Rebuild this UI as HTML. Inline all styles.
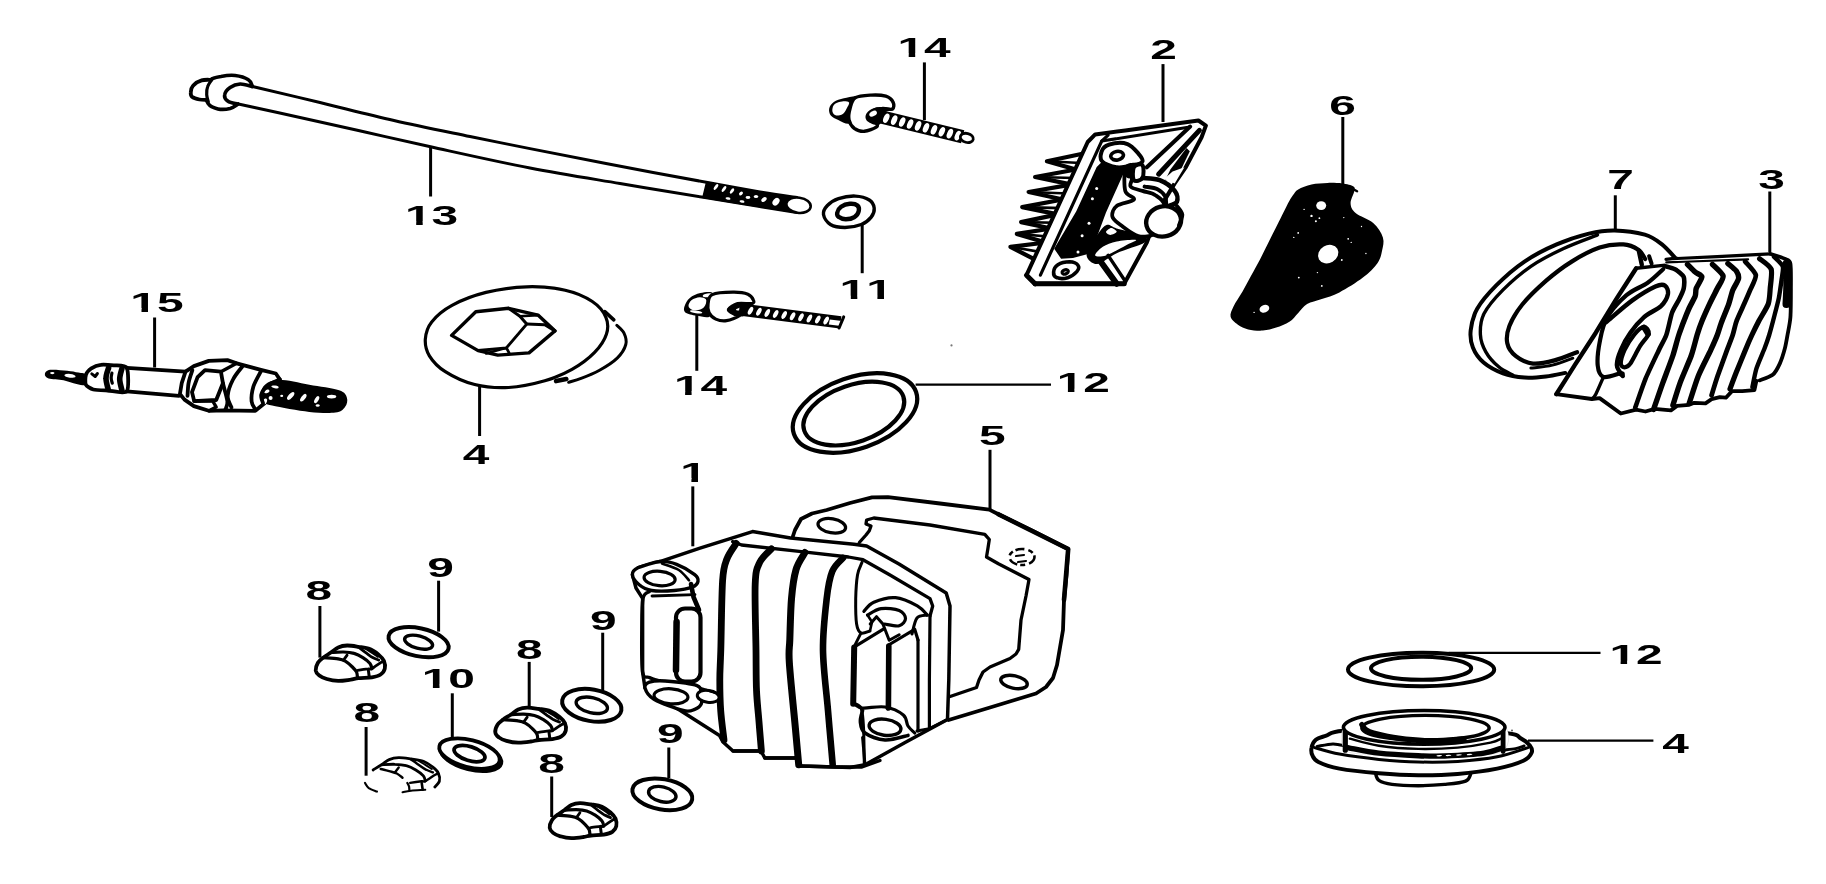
<!DOCTYPE html>
<html><head><meta charset="utf-8"><title>Cylinder head cover - parts diagram</title>
<style>
html,body{margin:0;padding:0;background:#fff;overflow:hidden}
svg{display:block}
.t{font-family:"Liberation Sans",sans-serif;font-weight:bold;font-size:28.5px;fill:#000;font-kerning:none;font-variant-ligatures:none}
</style></head><body>
<svg width="1826" height="884" viewBox="0 0 1826 884">
<defs><filter id="soft" x="0" y="0" width="1826" height="884" filterUnits="userSpaceOnUse"><feGaussianBlur stdDeviation="0.42"/></filter></defs>
<rect width="1826" height="884" fill="#fff"/>
<g filter="url(#soft)">
<g id="parts">
<g id="bolt13">
<path d="M252.5 86.5C263.8 89.2 296.4 96.8 320 102.5C343.6 108.2 369 114.8 394 120.5C419 126.2 447.3 131.8 470 136.5C492.7 141.2 507.3 144.1 530 148.6C552.7 153.1 576.2 157.8 606 163.5C635.8 169.2 683.3 178.1 709 182.8C734.7 187.6 745.3 189.5 760 192C774.7 194.5 790.8 196.7 797 197.6" fill="none" stroke="#000" stroke-width="3" stroke-linecap="round" stroke-linejoin="round"/>
<path d="M237.2 103.8C247.7 106.1 278.7 112.8 300 117.5C321.3 122.2 343.2 127.1 365 132C386.8 136.9 403.1 140.8 430.6 146.8C458.1 152.8 498.4 161.9 530 168C561.6 174.1 590.8 178.6 620 183.5C649.2 188.4 681.7 193.8 705 197.6C728.3 201.4 744.7 204 760 206.5C775.3 209 790.8 211.6 797 212.6" fill="none" stroke="#000" stroke-width="3" stroke-linecap="round" stroke-linejoin="round"/>
<path d="M706 181.5L740 188L775 194L790 197L792 212.5L770 209L735 203.5L702 198Z" fill="#000"/>
<ellipse cx="716" cy="187" rx="3.4" ry="1.5" fill="#fff"  transform="rotate(-55 716 187)"/>
<ellipse cx="724" cy="189" rx="3.4" ry="1.5" fill="#fff"  transform="rotate(-55 724 189)"/>
<ellipse cx="732" cy="191" rx="3" ry="1.5" fill="#fff"  transform="rotate(-55 732 191)"/>
<ellipse cx="741" cy="193.5" rx="2.2" ry="1.5" fill="#fff"  transform="rotate(-40 741 193.5)"/>
<ellipse cx="748" cy="197.5" rx="2.4" ry="1.4" fill="#fff" />
<ellipse cx="756" cy="196.5" rx="2.2" ry="1.5" fill="#fff" />
<ellipse cx="764" cy="199.5" rx="3" ry="2" fill="#fff"  transform="rotate(-40 764 199.5)"/>
<ellipse cx="776" cy="201.8" rx="4.2" ry="3" fill="#fff"  transform="rotate(-50 776 201.8)"/>
<ellipse cx="728" cy="198.5" rx="2.5" ry="1.2" fill="#fff"  transform="rotate(10 728 198.5)"/>
<ellipse cx="742" cy="201.5" rx="2.5" ry="1.2" fill="#fff"  transform="rotate(10 742 201.5)"/>
<ellipse cx="798.5" cy="205.2" rx="12.3" ry="7.6" fill="#fff" stroke="#000" stroke-width="2.6" transform="rotate(8 798.5 205.2)"/>
</g>
<g id="bolt13head">
<path d="M252.5 86.5C251.8 85.4 251.3 81.6 248.4 79.8C245.5 77.9 239.7 76 235.2 75.5C230.6 74.9 225 75.7 220.9 76.5C216.8 77.2 212.9 77.6 210.3 80C207.8 82.3 206 86.6 205.6 90.5C205.3 94.4 206 100.3 208.1 103.4C210.1 106.4 214.2 108 217.9 108.9C221.5 109.7 226.7 109.3 230.1 108.5C233.5 107.6 236.9 104.7 238.2 104" fill="#fff" stroke="#000" stroke-width="3.6" stroke-linecap="round" stroke-linejoin="round"/>
<path d="M211.1 79.8C209.5 79.9 204.6 79.4 201.6 80.4C198.5 81.3 194.8 83.7 193 85.7C191.2 87.6 190.9 90.3 190.8 92.2C190.6 94 190.5 95.4 192 96.7C193.5 97.9 197.1 99 199.5 99.5C202 100 205.5 99.8 206.7 99.9" fill="#fff" stroke="#000" stroke-width="3.8" stroke-linecap="round" stroke-linejoin="round"/>
<path d="M212.4 78.7C211.6 80 208.6 83.8 207.7 86.5C206.7 89.1 206.5 92.1 206.7 94.6C206.8 97.2 208 100.6 208.3 101.7" fill="none" stroke="#000" stroke-width="3.2" stroke-linecap="round" stroke-linejoin="round"/>
<path d="M251.9 86.5C249.9 86.1 243.9 83.9 240.2 84C236.6 84.2 232.7 85.7 230.1 87.5C227.5 89.3 224.9 92.7 224.6 95C224.2 97.3 225.9 99.8 228 101.3C230.2 102.8 236 103.5 237.6 104" fill="none" stroke="#000" stroke-width="3.6" stroke-linecap="round" stroke-linejoin="round"/>
</g>
<g id="washer11">
<path d="M823.5 214.6C823 211.4 824.8 208.2 827.4 205.5C829.9 202.9 833.9 200.2 838.5 198.7C843.2 197.1 850.2 195.9 855.3 196.1C860.4 196.3 866.1 197.9 869.3 200C872.4 202 873.9 205.3 874.2 208.1C874.5 211 873.3 214.4 871.2 217.1C869 219.9 865.7 222.7 861.3 224.5C856.9 226.2 850.1 227.5 845 227.5C839.8 227.5 833.9 226.6 830.4 224.5C826.8 222.3 824 217.7 823.5 214.6Z" fill="#fff" stroke="#000" stroke-width="3.4" stroke-linecap="round" stroke-linejoin="round"/>
<path d="M837.2 212.9C837.6 211.1 839 208.3 841.1 206.8C843.2 205.3 847.2 204 849.9 203.8C852.6 203.6 856 204.3 857.4 205.5C858.9 206.8 859.2 209.4 858.7 211.3C858.2 213.3 856.6 215.8 854.4 217.1C852.3 218.5 848.4 219.3 845.8 219.3C843.3 219.3 840.4 218.2 839 217.1C837.5 216.1 836.9 214.6 837.2 212.9Z" fill="none" stroke="#000" stroke-width="4.4" stroke-linecap="round" stroke-linejoin="round"/>
</g>
<g id="bolt14a">
<path d="M871.8 121.5L961.1 143.2L964.3 130.3L874.9 108.5Z" fill="#000"/>
<ellipse cx="886.3" cy="118.2" rx="2.7" ry="5" fill="#fff"  transform="rotate(24 886.3 118.2)"/>
<ellipse cx="894.2" cy="120.1" rx="2.7" ry="5" fill="#fff"  transform="rotate(24 894.2 120.1)"/>
<ellipse cx="902.2" cy="122" rx="2.7" ry="5" fill="#fff"  transform="rotate(24 902.2 122)"/>
<ellipse cx="910.1" cy="124" rx="2.7" ry="5" fill="#fff"  transform="rotate(24 910.1 124)"/>
<ellipse cx="918.1" cy="125.9" rx="2.7" ry="5" fill="#fff"  transform="rotate(24 918.1 125.9)"/>
<ellipse cx="926" cy="127.8" rx="2.7" ry="5" fill="#fff"  transform="rotate(24 926 127.8)"/>
<ellipse cx="934" cy="129.8" rx="2.7" ry="5" fill="#fff"  transform="rotate(24 934 129.8)"/>
<ellipse cx="941.9" cy="131.7" rx="2.7" ry="5" fill="#fff"  transform="rotate(24 941.9 131.7)"/>
<ellipse cx="949.9" cy="133.6" rx="2.7" ry="5" fill="#fff"  transform="rotate(24 949.9 133.6)"/>
<ellipse cx="957.8" cy="135.6" rx="2.7" ry="5" fill="#fff"  transform="rotate(24 957.8 135.6)"/>
<ellipse cx="966.8" cy="137.9" rx="6.6" ry="4.5" fill="#fff" stroke="#000" stroke-width="2.8" transform="rotate(14 966.8 137.9)"/>
<path d="M857.5 96.7C856 95.2 847.9 97.4 843.9 98.3C840 99.2 836.2 100.4 833.8 102.1C831.3 103.8 829.7 106.2 829.2 108.5C828.7 110.7 829.3 113.6 830.8 115.5C832.3 117.4 835.3 118.6 838.3 120C841.2 121.4 845.6 124.1 848.5 123.8C851.3 123.6 854.5 121.4 855.2 118.6C856 115.9 852.6 111 853 107.3C853.4 103.7 859 98.2 857.5 96.7Z" fill="#000"/>
<path d="M832.6 107.9C833 106.4 833.5 104.8 835.1 103.7C836.7 102.6 839.9 101.6 842.2 101.4C844.6 101.3 848.3 101.3 849 102.6C849.7 103.8 847.5 107.1 846.4 109C845.4 110.9 844.5 112.8 842.8 113.9C841.1 115 837.9 115.7 836.2 115.5C834.6 115.3 833.5 114 832.9 112.8C832.2 111.5 832.2 109.4 832.6 107.9Z" fill="#fff" stroke="#000" stroke-width="0" stroke-linecap="round" stroke-linejoin="round"/>
<path d="M855.2 97.8C858.7 95.7 866 95.4 871.1 95.1C876.2 94.8 882.1 95.1 885.8 96.2C889.5 97.4 892.1 100.1 893.1 102.2C894.2 104.4 894.1 108 892.4 109C890.6 110.1 885.6 108.1 882.4 108.5C879.2 108.8 874.3 108.5 873.3 111C872.4 113.4 876.3 120.5 876.7 123.2C877.2 125.9 878.3 125.8 876.2 127.1C874.1 128.5 867.9 131.1 864.3 131.3C860.7 131.5 856.9 130.2 854.3 128.3C851.8 126.3 849.7 123.2 849 119.8C848.3 116.4 849.1 111.6 850.2 107.9C851.2 104.2 851.8 100 855.2 97.8Z" fill="#fff" stroke="#000" stroke-width="3.4" stroke-linecap="round" stroke-linejoin="round"/>
<path d="M894.3 109.6C893.9 108.7 886.2 107 882.4 106.9C878.6 106.8 874.4 107.6 871.7 109C868.9 110.4 866.3 113.2 865.7 115.2C865 117.3 865.7 119.8 867.7 121.5C869.7 123.1 875.4 125.5 877.9 125.2C880.3 124.9 882.4 121.4 882.4 119.8C882.4 118.1 877.5 116.5 877.9 115.2C878.3 114 881.9 113 884.7 112.1C887.4 111.1 894.7 110.5 894.3 109.6Z" fill="#000"/>
<ellipse cx="873.1" cy="113.7" rx="4.1" ry="2.5" fill="#fff"  transform="rotate(-30 873.1 113.7)"/>
</g>
<g id="bolt14b">
<path d="M738.4 315.4L839.8 328.6L841.4 316.3L740 303.2Z" fill="#000"/>
<ellipse cx="750.5" cy="310.7" rx="2.1" ry="4.3" fill="#fff"  transform="rotate(28 750.5 310.7)"/>
<ellipse cx="758.9" cy="311.8" rx="2.1" ry="4.3" fill="#fff"  transform="rotate(28 758.9 311.8)"/>
<ellipse cx="767.3" cy="312.9" rx="2.1" ry="4.3" fill="#fff"  transform="rotate(28 767.3 312.9)"/>
<ellipse cx="775.7" cy="314" rx="2.1" ry="4.3" fill="#fff"  transform="rotate(28 775.7 314)"/>
<ellipse cx="784.2" cy="315.1" rx="2.1" ry="4.3" fill="#fff"  transform="rotate(28 784.2 315.1)"/>
<ellipse cx="792.6" cy="316.2" rx="2.1" ry="4.3" fill="#fff"  transform="rotate(28 792.6 316.2)"/>
<ellipse cx="801" cy="317.3" rx="2.1" ry="4.3" fill="#fff"  transform="rotate(28 801 317.3)"/>
<ellipse cx="809.4" cy="318.4" rx="2.1" ry="4.3" fill="#fff"  transform="rotate(28 809.4 318.4)"/>
<ellipse cx="817.8" cy="319.5" rx="2.1" ry="4.3" fill="#fff"  transform="rotate(28 817.8 319.5)"/>
<ellipse cx="826.2" cy="320.6" rx="2.1" ry="4.3" fill="#fff"  transform="rotate(28 826.2 320.6)"/>
<path d="M829.8 319.4L842.1 321L839 325.8L828.8 324.5Z" fill="#fff"/>
<path d="M843.7 316.9L839.1 328" fill="none" stroke="#000" stroke-width="3" stroke-linecap="round" stroke-linejoin="round"/>
<path d="M713.1 293.4C711.1 291 704.3 292.4 700.4 293.1C696.5 293.9 692.4 295.7 689.8 297.9C687.1 300 685.3 303.7 684.6 306.1C683.8 308.5 683.4 310.9 685.3 312.4C687.3 314 692.5 314.9 696.4 315.6C700.4 316.4 706.5 318.1 709.1 316.9C711.7 315.6 711.6 311.9 712.3 308C712.9 304.1 715 295.9 713.1 293.4Z" fill="#000"/>
<ellipse cx="707.5" cy="295.3" rx="4.8" ry="1.9" fill="#fff"  transform="rotate(-8 707.5 295.3)"/>
<path d="M688.5 306.1C688.4 304.5 689.8 301.6 691.7 300.1C693.5 298.6 697.2 297.4 699.6 297.2C702 297.1 705 297.9 705.9 299.3C706.9 300.7 706.1 303.9 705.1 305.6C704.2 307.4 702.5 308.9 700.4 309.6C698.3 310.3 694.4 310.5 692.5 309.9C690.5 309.3 688.6 307.7 688.5 306.1Z" fill="#fff" stroke="#000" stroke-width="0" stroke-linecap="round" stroke-linejoin="round"/>
<ellipse cx="696.1" cy="311.8" rx="6.3" ry="1.4" fill="#fff"  transform="rotate(8 696.1 311.8)"/>
<path d="M712.3 294.6C716.4 292.6 726.9 292.2 732.9 292.2C738.8 292.1 744.5 292.9 747.9 294.2C751.3 295.6 752.8 298.5 753.4 300.1C754.1 301.7 754.5 303 751.9 303.6C749.2 304.2 741.5 302.6 737.6 303.6C733.7 304.6 729 307.8 728.4 309.6C727.9 311.4 732.6 313.3 734.4 314.3C736.2 315.4 740.5 314.9 739.2 315.9C737.9 317 730.4 320.2 726.5 320.7C722.6 321.2 718.7 320.4 715.8 319.1C712.8 317.8 710.4 315.4 709.1 312.8C707.8 310.2 707.6 306.6 708.1 303.6C708.7 300.5 708.1 296.5 712.3 294.6Z" fill="#fff" stroke="#000" stroke-width="3.2" stroke-linecap="round" stroke-linejoin="round"/>
<path d="M753.8 303.9C753.2 303.3 743.2 302.5 739.2 302.9C735.2 303.4 731.7 305.5 729.7 306.7C727.7 308 726.5 309.2 727.3 310.5C728.1 311.9 731.8 314 734.4 315C737.1 315.9 741.3 316.8 743.2 316.2C745 315.7 746.7 312.6 745.5 311.5C744.3 310.4 736.6 310.7 736 309.9C735.5 309.1 739.4 307.7 742.4 306.7C745.3 305.7 754.3 304.5 753.8 303.9Z" fill="#000"/>
</g>
<g id="plug15">
<path d="M44.9 373.9C45.1 372.5 46.4 370.3 50.1 369.8C53.8 369.3 62.5 370.3 67.2 370.7C72 371.2 75.2 371.9 78.4 372.6C81.7 373.3 85.4 373 86.8 375C88.2 377 88.5 383.2 86.8 384.7C85.1 386.2 80.4 384.7 76.5 383.9C72.7 383.2 68.2 381.2 63.5 380.2C58.9 379.3 51.7 379.4 48.6 378.4C45.5 377.3 44.6 375.3 44.9 373.9Z" fill="#000"/>
<ellipse cx="70" cy="375.8" rx="5.6" ry="1.9" fill="#fff"  transform="rotate(6 70 375.8)"/>
<ellipse cx="52.3" cy="373.1" rx="2.2" ry="1.1" fill="#fff" />
<path d="M85.9 375C86.5 373.1 89.7 369.5 91.4 368.3C93.2 367.1 98.1 365.1 100.8 364.8C103.4 364.4 110.7 365 113.8 365.3C116.8 365.7 125.3 364.9 126.8 367.9C128.3 371 129 388.7 126.8 391.4C124.7 394 112.1 390.9 108.2 390.6C104.3 390.4 95.9 390.2 93.3 389.5C90.7 388.8 86.7 386.4 85.9 384.7C85 383 85.2 376.9 85.9 375Z" fill="#fff" stroke="#000" stroke-width="3.8" stroke-linecap="round" stroke-linejoin="round"/>
<path d="M108.6 367.9C108.1 369.6 106 374.6 106 378.2C105.9 381.8 107.8 387.6 108.2 389.5" fill="none" stroke="#000" stroke-width="5.6" stroke-linecap="round" stroke-linejoin="round"/>
<path d="M122 368.3C121.6 370.1 119.7 375.4 119.7 379.1C119.7 382.8 121.6 388.7 122 390.6" fill="none" stroke="#000" stroke-width="5.6" stroke-linecap="round" stroke-linejoin="round"/>
<path d="M111.9 373.1C111.8 374 111.1 376.5 111.2 378.2C111.2 379.8 112.1 382.4 112.3 383.2" fill="none" stroke="#000" stroke-width="3.2" stroke-linecap="round" stroke-linejoin="round"/>
<path d="M91.8 373.9L95.2 376.5L97.4 373.5" fill="none" stroke="#000" stroke-width="3" stroke-linecap="round" stroke-linejoin="round"/>
<path d="M126.8 367.9L185.5 371.7" fill="none" stroke="#000" stroke-width="3.8" stroke-linecap="round" stroke-linejoin="round"/>
<path d="M126.8 391.4L179 395.9" fill="none" stroke="#000" stroke-width="3.8" stroke-linecap="round" stroke-linejoin="round"/>
<path d="M185.5 371.7L193.9 366.1L208.8 360.9L227.4 360.1L236.7 363.3L260.9 369.8L275.8 373.5L279.9 379.5L264.6 403.3L255.3 410.8L223.6 410.4L208.8 410.8L193.9 406.1L184.5 399.6L179.9 394L181.8 382.8Z" fill="#fff" stroke="#000" stroke-width="3.8" stroke-linecap="round" stroke-linejoin="round"/>
<path d="M192.4 370.2C191.7 372.3 189.4 378.5 188.6 382.8C187.8 387.1 187.7 393.7 187.5 395.9" fill="none" stroke="#000" stroke-width="3.8" stroke-linecap="round" stroke-linejoin="round"/>
<path d="M197.6 377.2L205 370.2L220.9 371.7L222.9 383.2L216.2 400L194.2 401.1L192 392.1Z" fill="none" stroke="#000" stroke-width="3.8" stroke-linecap="round" stroke-linejoin="round"/>
<path d="M194.2 401.1L212.5 400.7L216.2 407L209.1 410.8" fill="none" stroke="#000" stroke-width="3.4" stroke-linecap="round" stroke-linejoin="round"/>
<path d="M220.9 371.7L236.7 363.3" fill="none" stroke="#000" stroke-width="3.4" stroke-linecap="round" stroke-linejoin="round"/>
<path d="M222.9 383.2C223.6 386.2 226.9 397.1 227.4 401.4C227.8 405.8 225.8 408 225.5 409.3" fill="none" stroke="#000" stroke-width="3.8" stroke-linecap="round" stroke-linejoin="round"/>
<path d="M242.6 366.1C241 368.3 235.4 374.5 233 379.5C230.5 384.4 228 391.2 227.7 395.9C227.5 400.5 230.8 405.5 231.5 407.4" fill="none" stroke="#000" stroke-width="3.8" stroke-linecap="round" stroke-linejoin="round"/>
<path d="M260.9 371.3C259.6 373.8 255 381.5 253.4 386.5C251.9 391.6 251.2 397.5 251.6 401.4C251.9 405.4 255 408.6 255.7 410" fill="none" stroke="#000" stroke-width="3.8" stroke-linecap="round" stroke-linejoin="round"/>
<path d="M265 384.7C268.1 382.3 272.1 379.8 279.5 379.8C286.9 379.8 299.4 382.9 309.3 384.7C319.2 386.4 332.8 388.1 339.1 390.3C345.4 392.4 345.9 394.9 346.9 397.7C347.9 400.5 347 404.5 345 407C343.1 409.5 341.3 411.8 335.4 412.6C329.4 413.4 319.9 413.1 309.3 411.9C298.7 410.7 279.8 407.3 272.1 405.5C264.3 403.8 264.6 403.4 262.7 401.4C260.9 399.5 260.5 396.8 260.9 394C261.3 391.2 261.9 387 265 384.7Z" fill="#000"/>
<ellipse cx="266.8" cy="391.4" rx="2.8" ry="1.7" fill="#fff"  transform="rotate(-20 266.8 391.4)"/>
<ellipse cx="270.6" cy="398.1" rx="2" ry="2" fill="#fff" />
<ellipse cx="275" cy="386.9" rx="3.7" ry="1.3" fill="#fff"  transform="rotate(10 275 386.9)"/>
<ellipse cx="290.7" cy="395.9" rx="4.8" ry="2.2" fill="#fff"  transform="rotate(-48 290.7 395.9)"/>
<ellipse cx="303.3" cy="397.7" rx="4.5" ry="2" fill="#fff"  transform="rotate(-52 303.3 397.7)"/>
<ellipse cx="316.7" cy="399.6" rx="3.9" ry="1.9" fill="#fff"  transform="rotate(-60 316.7 399.6)"/>
<ellipse cx="331.6" cy="396.6" rx="4.7" ry="1.9" fill="#fff" />
<ellipse cx="317.7" cy="405.5" rx="2" ry="1.3" fill="#fff" />
<ellipse cx="281.7" cy="395.9" rx="1.5" ry="1.1" fill="#fff" />
<ellipse cx="265" cy="401.4" rx="1.9" ry="3" fill="#fff"  transform="rotate(20 265 401.4)"/>
<path d="M279.9 379.5C278 380.4 271.8 382.6 268.7 385.1C265.6 387.5 262.2 391.3 261.3 394.4C260.3 397.4 262.8 401.8 263.1 403.3" fill="none" stroke="#000" stroke-width="3.8" stroke-linecap="round" stroke-linejoin="round"/>
</g>
<g id="cap4a">
<path d="M616.8 325.3C618 326.6 622.5 330 624 333.2C625.5 336.4 627 340.3 625.8 344.5C624.7 348.6 621.7 353.7 617.2 358.1C612.8 362.4 605.2 367.1 599.1 370.5C593.1 373.9 586.1 376.5 581 378.4C575.9 380.4 570.7 381.6 568.6 382.3" fill="none" stroke="#000" stroke-width="3" stroke-linecap="round" stroke-linejoin="round"/>
<path d="M604.8 311.7L613.8 319.8" fill="none" stroke="#000" stroke-width="3.6" stroke-linecap="round" stroke-linejoin="round"/>
<path d="M425.3 339.3C425.7 333.6 427.2 327.5 431.7 321.9C436.1 316.2 443 310.2 452 305.3C461.1 300.4 473.5 295.5 486 292.4C498.4 289.4 513.5 287.2 526.7 286.8C539.9 286.4 554.3 287.7 565.2 290.2C576.1 292.6 585.6 297 592.3 301.5C599.1 306 603.6 311.9 605.9 317.3C608.3 322.8 608.3 328.5 606.4 334.3C604.5 340.2 600.3 346.6 594.6 352.4C588.9 358.3 580.3 364.7 572 369.4C563.7 374.1 555.4 377.7 544.8 380.7C534.3 383.7 520.3 386.8 508.6 387.5C496.9 388.1 485.2 387.2 474.7 384.5C464.1 381.9 452.8 376.4 445.3 371.6C437.7 366.9 432.7 361.2 429.4 355.8C426.1 350.4 425 344.9 425.3 339.3Z" fill="#fff" stroke="#000" stroke-width="3.2" stroke-linecap="round" stroke-linejoin="round"/>
<path d="M556.1 381.1L566.3 379.1" fill="none" stroke="#000" stroke-width="4.6" stroke-linecap="round" stroke-linejoin="round"/>
<path d="M451.6 335.4L475.8 311.7L508.6 308.3L538 315.1L555 330.9L529 352.9L497.8 355.1L478.1 350.6Z" fill="#fff" stroke="#000" stroke-width="3.4" stroke-linecap="round" stroke-linejoin="round"/>
<path d="M508.6 308.3L519.9 316.2L526.7 324.1L506.4 347.9L478.1 350.6" fill="none" stroke="#000" stroke-width="3" stroke-linecap="round" stroke-linejoin="round"/>
<path d="M526.7 324.1L544.8 324.8L555 330.9" fill="none" stroke="#000" stroke-width="3" stroke-linecap="round" stroke-linejoin="round"/>
<path d="M519.9 316.2L538 315.1" fill="none" stroke="#000" stroke-width="2.6" stroke-linecap="round" stroke-linejoin="round"/>
<path d="M506.4 347.9L509.1 352.9" fill="none" stroke="#000" stroke-width="2.8" stroke-linecap="round" stroke-linejoin="round"/>
<path d="M486 353.5L506.4 347.9" fill="none" stroke="#000" stroke-width="2.4" stroke-linecap="round" stroke-linejoin="round"/>
</g>
<g id="oring12a">
<ellipse cx="855" cy="413" rx="64.6" ry="35.6" fill="#fff" stroke="#000" stroke-width="4.2" transform="rotate(-19 855 413)"/>
<ellipse cx="853.8" cy="413.6" rx="52.4" ry="28.4" fill="none" stroke="#000" stroke-width="4.2" transform="rotate(-19 853.8 413.6)"/>
</g>
<g id="nut8a">
<path d="M315.7 670.4C315.5 668.3 316.7 664.8 317.9 662.7C319.2 660.5 321 659.4 323.2 657.7C325.4 656 328.7 654.1 331.2 652.3C333.7 650.6 335.6 648.5 338.2 647.4C340.9 646.2 343.7 645.6 347.1 645.5C350.4 645.4 354.7 646.2 358.5 646.8C362.4 647.4 366.6 647.7 370 649.1C373.4 650.4 376.5 653 378.8 654.9C381.2 656.9 382.9 658.7 383.9 660.9C384.9 663.2 385.4 666.4 384.8 668.7C384.3 670.9 382.8 673.1 380.6 674.5C378.4 676 375.4 676.7 371.8 677.3C368.1 677.9 362.1 677.7 358.5 678.1C355 678.5 354 679.2 350.6 679.7C347.2 680.1 342.2 681 338.2 680.9C334.3 680.8 329.9 679.9 326.8 679C323.6 678.1 321.1 677 319.3 675.6C317.4 674.1 316 672.6 315.7 670.4Z" fill="#fff" stroke="#000" stroke-width="3.8" stroke-linecap="round" stroke-linejoin="round"/>
<path d="M323.2 657.7C325.7 657.9 334.6 658.2 338.2 658.8C341.9 659.4 342.9 659.8 345.3 661.1C347.7 662.5 350.5 665.1 352.4 667C354.2 668.8 355.7 670.3 356.6 672.1C357.4 673.9 357.3 676.8 357.5 677.7" fill="none" stroke="#000" stroke-width="3.2" stroke-linecap="round" stroke-linejoin="round"/>
<path d="M331.2 652.5C333.2 652.4 339.7 651.9 343.5 652C347.4 652.1 350.9 652.4 354.1 653.4C357.4 654.3 360.3 656 362.9 657.7C365.6 659.4 368.5 661.7 370 663.5C371.5 665.4 371.5 667.8 371.8 668.7" fill="none" stroke="#000" stroke-width="3.2" stroke-linecap="round" stroke-linejoin="round"/>
<path d="M343.5 660.1 L347.1 655.1" fill="none" stroke="#000" stroke-width="2.8" stroke-linecap="round" stroke-linejoin="round"/>
<path d="M357.7 670.4C359.4 670.1 365.9 669.1 368.2 668.9C370.6 668.6 369.7 669.7 371.8 668.7C373.8 667.7 378.6 663.9 380.6 662.7C382.6 661.4 383.4 661.4 383.9 661.1" fill="none" stroke="#000" stroke-width="2.8" stroke-linecap="round" stroke-linejoin="round"/>
<path d="M368.4 670.4 L369.3 677.3" fill="none" stroke="#000" stroke-width="3" stroke-linecap="round" stroke-linejoin="round"/>
<path d="M358.5 647.2C359.9 648.2 364.1 651.5 366.5 653.2C368.8 654.9 370.6 656.4 372.7 657.5C374.7 658.7 377.8 659.7 378.8 660.1" fill="none" stroke="#000" stroke-width="2.8" stroke-linecap="round" stroke-linejoin="round"/>
<path d="M365.2 648.2C366.3 648.9 369.7 651.1 371.8 652.5C373.9 653.9 376.8 656 377.8 656.6" fill="none" stroke="#000" stroke-width="2.4" stroke-linecap="round" stroke-linejoin="round"/>
</g>
<g id="nut8b">
<path d="M495.3 732.3C495 730.2 496.2 726.8 497.5 724.7C498.8 722.6 500.7 721.5 502.9 719.7C505.2 718 508.5 716.2 511 714.5C513.6 712.8 515.5 710.7 518.2 709.5C520.9 708.4 523.8 707.8 527.2 707.7C530.7 707.6 535 708.4 538.9 708.9C542.8 709.5 547.2 709.9 550.6 711.2C554.1 712.6 557.3 715.1 559.6 717C562 719 563.8 720.7 564.9 723C565.9 725.3 566.3 728.4 565.8 730.6C565.2 732.9 563.7 735 561.4 736.4C559.2 737.8 556.2 738.5 552.4 739.1C548.7 739.7 542.5 739.6 538.9 740C535.3 740.4 534.3 741.1 530.8 741.5C527.4 742 522.3 742.8 518.2 742.7C514.2 742.6 509.7 741.7 506.5 740.8C503.3 740 500.7 738.9 498.9 737.4C497 736 495.5 734.5 495.3 732.3Z" fill="#fff" stroke="#000" stroke-width="3.8" stroke-linecap="round" stroke-linejoin="round"/>
<path d="M502.9 719.7C505.5 719.9 514.5 720.3 518.2 720.9C522 721.4 523 721.8 525.4 723.2C527.8 724.5 530.7 727.1 532.6 728.9C534.5 730.8 536.1 732.3 536.9 734C537.8 735.8 537.7 738.6 537.8 739.6" fill="none" stroke="#000" stroke-width="3.2" stroke-linecap="round" stroke-linejoin="round"/>
<path d="M511 714.6C513.1 714.6 519.7 714 523.6 714.1C527.5 714.3 531.1 714.6 534.4 715.5C537.7 716.4 540.7 718.1 543.4 719.7C546.1 721.4 549.1 723.7 550.6 725.5C552.1 727.3 552.1 729.8 552.4 730.6" fill="none" stroke="#000" stroke-width="3.2" stroke-linecap="round" stroke-linejoin="round"/>
<path d="M523.6 722.1 L527.2 717.2" fill="none" stroke="#000" stroke-width="2.8" stroke-linecap="round" stroke-linejoin="round"/>
<path d="M538 732.3C539.8 732.1 546.4 731.1 548.8 730.8C551.2 730.5 550.3 731.7 552.4 730.6C554.5 729.6 559.4 725.9 561.4 724.7C563.5 723.4 564.3 723.4 564.9 723.2" fill="none" stroke="#000" stroke-width="2.8" stroke-linecap="round" stroke-linejoin="round"/>
<path d="M549 732.3 L549.9 739.1" fill="none" stroke="#000" stroke-width="3" stroke-linecap="round" stroke-linejoin="round"/>
<path d="M538.9 709.4C540.3 710.4 544.6 713.6 547 715.3C549.4 717 551.2 718.4 553.3 719.6C555.4 720.7 558.6 721.7 559.6 722.1" fill="none" stroke="#000" stroke-width="2.8" stroke-linecap="round" stroke-linejoin="round"/>
<path d="M545.7 710.4C546.8 711.1 550.3 713.3 552.4 714.6C554.6 716 557.5 718 558.6 718.7" fill="none" stroke="#000" stroke-width="2.4" stroke-linecap="round" stroke-linejoin="round"/>
</g>
<g id="nut8c">
<path d="M373.1 770C374.5 769.1 378.9 766.4 381.6 764.6C384.3 762.9 386.4 760.7 389.2 759.6C392.1 758.4 395.1 757.8 398.7 757.7C402.4 757.6 406.9 758.4 411.1 759C415.2 759.6 419.8 759.9 423.4 761.3C427.1 762.7 430.4 765.2 432.9 767.2C435.4 769.2 437.4 771 438.4 773.3C439.5 775.6 440 778.8 439.4 781.1C438.8 783.4 435.6 786.1 434.8 787" fill="none" stroke="#000" stroke-width="2.8" stroke-linecap="round" stroke-linejoin="round"/>
<path d="M425.3 789.8C422.9 790 414.9 790.3 411.1 790.7C407.3 791.1 403.9 792 402.5 792.3" fill="none" stroke="#000" stroke-width="2" stroke-linecap="round" stroke-linejoin="round"/>
<path d="M376.9 791.6C375.5 791 370.8 789.5 368.8 788.1C366.8 786.6 365.6 783.7 365 782.9" fill="none" stroke="#000" stroke-width="2.2" stroke-linecap="round" stroke-linejoin="round"/>
<path d="M380.7 769C382.1 769.3 386.5 770.4 389.2 771.1C391.9 771.9 394.6 772.4 396.8 773.5C399 774.6 401.6 777 402.5 777.7" fill="none" stroke="#000" stroke-width="2.4" stroke-linecap="round" stroke-linejoin="round"/>
<path d="M407.3 782.9C407.5 783.4 408.6 785.1 409 786.3C409.3 787.6 409.3 789.6 409.4 790.3" fill="none" stroke="#000" stroke-width="2.2" stroke-linecap="round" stroke-linejoin="round"/>
<path d="M381.6 764.8C383.8 764.7 390.8 764.1 394.9 764.3C399 764.4 402.8 764.7 406.3 765.7C409.8 766.6 413 768.3 415.8 770C418.7 771.7 421.8 774.1 423.4 775.9C425 777.8 425 780.3 425.3 781.1" fill="none" stroke="#000" stroke-width="2.8" stroke-linecap="round" stroke-linejoin="round"/>
<path d="M394.9 772.4 L398.7 767.4" fill="none" stroke="#000" stroke-width="2.4" stroke-linecap="round" stroke-linejoin="round"/>
<path d="M410.1 782.9C412 782.6 419 781.6 421.5 781.3C424 781 423.1 782.2 425.3 781.1C427.5 780.1 432.6 776.3 434.8 775C437 773.8 437.8 773.7 438.4 773.5" fill="none" stroke="#000" stroke-width="2.4" stroke-linecap="round" stroke-linejoin="round"/>
<path d="M421.7 782.9 L422.7 789.8" fill="none" stroke="#000" stroke-width="2.6" stroke-linecap="round" stroke-linejoin="round"/>
<path d="M411.1 759.4C412.5 760.4 417.1 763.8 419.6 765.5C422.1 767.2 424 768.7 426.3 769.8C428.5 771 431.8 772 432.9 772.4" fill="none" stroke="#000" stroke-width="2.4" stroke-linecap="round" stroke-linejoin="round"/>
<path d="M418.2 760.5C419.4 761.2 423 763.4 425.3 764.8C427.6 766.2 430.7 768.3 431.8 769" fill="none" stroke="#000" stroke-width="2" stroke-linecap="round" stroke-linejoin="round"/>
</g>
<g id="nut8d">
<path d="M549.7 827.8C549.5 825.7 550.6 822.3 551.9 820.2C553.1 818.1 554.8 817 557 815.2C559.1 813.5 562.2 811.7 564.6 810C567 808.3 568.9 806.2 571.4 805C574 803.9 576.7 803.3 579.9 803.2C583.2 803.1 587.3 803.9 591 804.4C594.7 805 598.8 805.4 602 806.7C605.3 808.1 608.3 810.6 610.5 812.5C612.8 814.5 614.5 816.2 615.5 818.5C616.4 820.8 616.9 823.9 616.3 826.1C615.8 828.4 614.3 830.5 612.3 831.9C610.2 833.3 607.3 834 603.7 834.6C600.2 835.2 594.4 835.1 591 835.5C587.6 835.9 586.6 836.6 583.3 837C580.1 837.5 575.2 838.3 571.4 838.2C567.6 838.1 563.4 837.2 560.4 836.3C557.3 835.5 554.9 834.4 553.1 832.9C551.4 831.5 549.9 830 549.7 827.8Z" fill="#fff" stroke="#000" stroke-width="3.8" stroke-linecap="round" stroke-linejoin="round"/>
<path d="M557 815.2C559.4 815.4 567.9 815.8 571.4 816.4C575 816.9 576 817.3 578.2 818.7C580.5 820 583.2 822.6 585 824.4C586.8 826.3 588.3 827.8 589.1 829.5C589.9 831.3 589.8 834.1 590 835.1" fill="none" stroke="#000" stroke-width="3.2" stroke-linecap="round" stroke-linejoin="round"/>
<path d="M564.6 810.1C566.6 810.1 572.8 809.5 576.5 809.6C580.2 809.8 583.6 810.1 586.7 811C589.8 811.9 592.7 813.6 595.2 815.2C597.8 816.9 600.6 819.2 602 821C603.5 822.8 603.5 825.3 603.7 826.1" fill="none" stroke="#000" stroke-width="3.2" stroke-linecap="round" stroke-linejoin="round"/>
<path d="M576.5 817.6 L579.9 812.7" fill="none" stroke="#000" stroke-width="2.8" stroke-linecap="round" stroke-linejoin="round"/>
<path d="M590.1 827.8C591.8 827.6 598.1 826.6 600.3 826.3C602.6 826 601.8 827.2 603.7 826.1C605.7 825.1 610.3 821.4 612.3 820.2C614.2 818.9 614.9 818.9 615.5 818.7" fill="none" stroke="#000" stroke-width="2.8" stroke-linecap="round" stroke-linejoin="round"/>
<path d="M600.5 827.8 L601.4 834.6" fill="none" stroke="#000" stroke-width="3" stroke-linecap="round" stroke-linejoin="round"/>
<path d="M591 804.9C592.3 805.9 596.4 809.1 598.6 810.8C600.9 812.5 602.6 813.9 604.6 815.1C606.6 816.2 609.6 817.2 610.5 817.6" fill="none" stroke="#000" stroke-width="2.8" stroke-linecap="round" stroke-linejoin="round"/>
<path d="M597.4 805.9C598.4 806.6 601.7 808.8 603.7 810.1C605.8 811.5 608.6 813.5 609.5 814.2" fill="none" stroke="#000" stroke-width="2.4" stroke-linecap="round" stroke-linejoin="round"/>
</g>
<g id="w9a">
<ellipse cx="418.6" cy="642.2" rx="30.6" ry="14" fill="#fff" stroke="#000" stroke-width="4" transform="rotate(12 418.6 642.2)"/>
<ellipse cx="418.6" cy="642.2" rx="14.4" ry="6.2" fill="none" stroke="#000" stroke-width="3.4" transform="rotate(15 418.6 642.2)"/>
</g>
<g id="w9b">
<ellipse cx="591.8" cy="705.3" rx="30" ry="15.8" fill="#fff" stroke="#000" stroke-width="4" transform="rotate(10 591.8 705.3)"/>
<ellipse cx="591.8" cy="705.3" rx="16" ry="7.6" fill="none" stroke="#000" stroke-width="3.4" transform="rotate(13 591.8 705.3)"/>
</g>
<g id="w9c">
<ellipse cx="662.3" cy="794.3" rx="30.3" ry="15.2" fill="#fff" stroke="#000" stroke-width="4" transform="rotate(10 662.3 794.3)"/>
<ellipse cx="662.3" cy="794.3" rx="14" ry="7.4" fill="none" stroke="#000" stroke-width="3.4" transform="rotate(13 662.3 794.3)"/>
</g>
<g id="w10">
<ellipse cx="471.1" cy="756" rx="31" ry="13.6" fill="#fff" stroke="#000" stroke-width="3.8" transform="rotate(14 471.1 756)"/>
<ellipse cx="469.5" cy="753.6" rx="31" ry="13.6" fill="#fff" stroke="#000" stroke-width="3.8" transform="rotate(14 469.5 753.6)"/>
<ellipse cx="469.5" cy="753.6" rx="16" ry="7" fill="none" stroke="#000" stroke-width="3.8" transform="rotate(17 469.5 753.6)"/>
</g>
<g id="gasket5">
<path d="M792 539L795 530L801 519L812 513.5L826.7 510L850 503L872 497.3L888 497.2L940 503.5L989.3 509.6L998.4 514.2L1034 531.5L1068.2 549L1066.5 575L1064 600L1063 630L1057 665L1053 678L1046 687L1036 693.5L990 707.5L948.6 720" fill="#fff" stroke="#000" stroke-width="3.8" stroke-linecap="round" stroke-linejoin="round"/>
<path d="M998.4 514.2L1068.2 549L1064 600" fill="none" stroke="#000" stroke-width="4.6" stroke-linecap="round" stroke-linejoin="round"/>
<path d="M859.3 542.5L866 535L869.3 530.7L871 526L866 524L866.6 520L873.8 518L930 525L984.8 534.3L989.3 539.5L988 548L986.5 557L998.4 563.7L1029 579.5L1026 596L1021 620L1018.7 649.4L1016 654L1010 658.5L990 667L983 672L979 680L976.5 687.5L948.6 697" fill="none" stroke="#000" stroke-width="3.3" stroke-linecap="round" stroke-linejoin="round"/>
<ellipse cx="831.8" cy="525.8" rx="14" ry="7" fill="#fff" stroke="#000" stroke-width="3.2" transform="rotate(10 831.8 525.8)"/>
<ellipse cx="1014" cy="682" rx="13.5" ry="6.2" fill="#fff" stroke="#000" stroke-width="3.4" transform="rotate(12 1014 682)"/>
<ellipse cx="1022" cy="557" rx="12.5" ry="8" fill="none" stroke="#000" stroke-width="2.6" stroke-dasharray="9 4 5 3" />
<path d="M1016 556L1024 555" fill="none" stroke="#000" stroke-width="2.2" stroke-linecap="round" stroke-linejoin="round"/>
<path d="M1018 562L1026 561" fill="none" stroke="#000" stroke-width="2.2" stroke-linecap="round" stroke-linejoin="round"/>
</g>
<g id="head1">
<path d="M632.4 574.6L638 567.8L660.7 561.3L700 548.2L752.5 531.6L790.5 538L854 544.3L866.6 546L899 564L946.2 593L950 606L948.8 680L947.5 719.5L906 742L865 764.8L850 767.5L835 767L801 766L798 758L764.8 758L761 751L733 751L723 742L719.5 735.4L645 688L642.6 672L642.6 598.4L636 588Z" fill="#fff" stroke="#000" stroke-width="3.5" stroke-linecap="round" stroke-linejoin="round"/>
<path d="M732.6 541.6L741.6 545L801.4 551.6L848.5 557L863 559.7L890 575L930 598.6L932.7 606L930 616" fill="none" stroke="#000" stroke-width="3.3" stroke-linecap="round" stroke-linejoin="round"/>
<path d="M736.2 543.4C734.7 546 729.3 552.6 727 558.8C724.7 565 723.6 565.3 722.6 580.5C721.6 595.7 721.3 633.4 720.8 650C720.3 666.6 719.8 669.9 719.8 680C719.8 690.1 720 700.5 720.7 710.5C721.4 720.5 723.5 735.1 724 740" fill="none" stroke="#000" stroke-width="6.8" stroke-linecap="round" stroke-linejoin="round"/>
<path d="M771.5 548.8C769.5 551.1 762.4 556.5 759.7 562.4C757 568.3 755.8 569.4 755.2 584C754.6 598.6 755.8 632.3 756 650C756.2 667.7 756 678 756.5 690C757 702 758.2 711.6 759 721.8C759.8 732 761 746.1 761.4 751" fill="none" stroke="#000" stroke-width="6.8" stroke-linecap="round" stroke-linejoin="round"/>
<path d="M805 552.5C803.5 555.4 798.2 562 796 569.7C793.8 577.4 792.5 586.9 791.5 598.6C790.5 610.3 790.2 629.4 789.8 640C789.4 650.6 788.5 648.4 789.3 662C790.1 675.6 793.2 704.7 794.8 721.8C796.4 738.9 798.1 757.6 798.7 764.8" fill="none" stroke="#000" stroke-width="7" stroke-linecap="round" stroke-linejoin="round"/>
<path d="M843 558C841.2 560.2 834.9 564.7 832.2 571.5C829.5 578.3 828.2 585.5 826.7 598.6C825.2 611.7 822.8 631.4 823 650C823.2 668.6 826.4 691.4 828 710.5C829.6 729.6 831.9 755.8 832.7 764.8" fill="none" stroke="#000" stroke-width="6.6" stroke-linecap="round" stroke-linejoin="round"/>
<path d="M862 562.4C861.2 564.5 858.5 569 857.5 575C856.5 581 855.9 590.4 855.7 598.6C855.6 606.8 855.7 618.3 856.6 624C857.5 629.7 858.8 631.8 861 633C863.2 634.2 868.5 631.3 870 631" fill="none" stroke="#000" stroke-width="3" stroke-linecap="round" stroke-linejoin="round"/>
<path d="M861 633 L855 645" fill="none" stroke="#000" stroke-width="2.8" stroke-linecap="round" stroke-linejoin="round"/>
<path d="M853.5 703C854.8 703.8 859.3 704 861 708C862.7 712 863 717.5 863.5 727C864 736.5 864.2 758.5 864.3 764.8" fill="none" stroke="#000" stroke-width="3" stroke-linecap="round" stroke-linejoin="round"/>
<path d="M733 751L761 751" fill="none" stroke="#000" stroke-width="3.4" stroke-linecap="round" stroke-linejoin="round"/>
<path d="M764.8 758L798 758" fill="none" stroke="#000" stroke-width="3.4" stroke-linecap="round" stroke-linejoin="round"/>
<path d="M801 766L835 767L862 767L880 760.5" fill="none" stroke="#000" stroke-width="3.4" stroke-linecap="round" stroke-linejoin="round"/>
<path d="M632.4 574.6C632.2 571.8 633.3 570 638 567.8C642.7 565.6 654.3 562.1 660.7 561.5C667.1 560.9 670.9 562.2 676.6 564.4C682.3 566.6 691.1 571.8 694.7 574.6C698.3 577.4 698.4 579.3 698 581.4C697.6 583.5 696.4 585.5 692.4 587C688.4 588.5 681.1 589.9 674.3 590.5C667.5 591.1 657.6 591.5 651.7 590.5C645.9 589.5 642.4 587.4 639.2 584.8C636 582.1 632.6 577.4 632.4 574.6Z" fill="#fff" stroke="#000" stroke-width="3.4" stroke-linecap="round" stroke-linejoin="round"/>
<ellipse cx="659.6" cy="578.5" rx="15.6" ry="7.2" fill="#fff" stroke="#000" stroke-width="3.2" transform="rotate(5 659.6 578.5)"/>
<path d="M662 563.5C664.8 564.6 674.3 567.2 678.8 570C683.3 572.8 687.3 578.6 689 580.3" fill="none" stroke="#000" stroke-width="2.6" stroke-linecap="round" stroke-linejoin="round"/>
<path d="M649.4 591.6C648.3 592.7 644.3 592 643 598.4C641.7 604.8 641.9 617.7 641.8 630C641.7 642.3 641.3 664.1 642.6 672C643.9 679.9 646.5 676 649.4 677.5C652.3 679 658.2 680.4 660 681" fill="none" stroke="#000" stroke-width="3.4" stroke-linecap="round" stroke-linejoin="round"/>
<path d="M652 596L695 594.6" fill="none" stroke="#000" stroke-width="2.8" stroke-linecap="round" stroke-linejoin="round"/>
<rect x="676" y="608.5" width="24.5" height="73" rx="9" ry="9" fill="none" stroke="#000" stroke-width="4.2"/><path d="M676.6 622L676 670" stroke="#000" stroke-width="6.5" stroke-linecap="round" fill="none"/>
<path d="M691 584L693.5 597L699 610" fill="none" stroke="#000" stroke-width="4.6" stroke-linecap="round" stroke-linejoin="round"/>
<path d="M645 688C644.2 685.2 646 683.4 649.4 682.2C652.8 681 657.3 680.4 665.2 681C673.1 681.6 691.1 683.3 697 685.6C702.9 687.9 699.8 691.7 700.5 694.7C701.2 697.7 702.4 701.2 701.4 703.7C700.4 706.2 697.7 708.3 694.7 709.4C691.7 710.5 690.1 712.2 683.3 710.5C676.5 708.8 660.4 703 654 699.2C647.6 695.5 645.8 690.8 645 688Z" fill="#fff" stroke="#000" stroke-width="3.4" stroke-linecap="round" stroke-linejoin="round"/>
<ellipse cx="671" cy="696.3" rx="17" ry="7.5" fill="#fff" stroke="#000" stroke-width="3.2" transform="rotate(4 671 696.3)"/>
<ellipse cx="708.2" cy="696.4" rx="11" ry="6" fill="#fff" stroke="#000" stroke-width="3" transform="rotate(8 708.2 696.4)"/>
<path d="M700 688L719.5 694" fill="none" stroke="#000" stroke-width="2.6" stroke-linecap="round" stroke-linejoin="round"/>
<path d="M930 616L929.4 680L929.4 728.6" fill="none" stroke="#000" stroke-width="3.2" stroke-linecap="round" stroke-linejoin="round"/>
<path d="M918 640L918 731" fill="none" stroke="#000" stroke-width="3.2" stroke-linecap="round" stroke-linejoin="round"/>
<path d="M917 731L929.4 728.6L947.5 719.5" fill="none" stroke="#000" stroke-width="3" stroke-linecap="round" stroke-linejoin="round"/>
<path d="M854.2 647.4L853.2 703.7" fill="none" stroke="#000" stroke-width="6" stroke-linecap="round" stroke-linejoin="round"/>
<path d="M888.8 646L888.4 708" fill="none" stroke="#000" stroke-width="5.6" stroke-linecap="round" stroke-linejoin="round"/>
<path d="M853.6 647.4L883 629.3" fill="none" stroke="#000" stroke-width="3.2" stroke-linecap="round" stroke-linejoin="round"/>
<path d="M888.6 645L914.7 629.3L918 640" fill="none" stroke="#000" stroke-width="3.2" stroke-linecap="round" stroke-linejoin="round"/>
<path d="M912 634C912.8 631.3 914.5 621.2 917 618C919.5 614.8 925.5 615.5 927.2 615" fill="none" stroke="#000" stroke-width="3" stroke-linecap="round" stroke-linejoin="round"/>
<path d="M863.9 611.3C865.5 609.8 868.5 604.6 873.8 602.3C879.1 600 888.2 597.1 895.5 597.7C902.8 598.3 912 603 917.3 605.9C922.6 608.8 925.6 613.5 927.2 615" fill="none" stroke="#000" stroke-width="3.2" stroke-linecap="round" stroke-linejoin="round"/>
<path d="M867.5 615C869.8 613.9 875.7 609.4 881 608.6C886.3 607.8 895.1 608.7 899.2 610.4C903.3 612.1 905.5 616 905.5 618.6C905.5 621.2 902.7 624.9 899.2 625.8C895.7 626.7 887.1 624.3 884.7 624" fill="none" stroke="#000" stroke-width="3.2" stroke-linecap="round" stroke-linejoin="round"/>
<path d="M870.2 624L876.5 616.7L882.9 624L889.2 640.3L899.2 634.8" fill="none" stroke="#000" stroke-width="3" stroke-linecap="round" stroke-linejoin="round"/>
<path d="M867.5 615L872 622L870.2 630" fill="none" stroke="#000" stroke-width="2.6" stroke-linecap="round" stroke-linejoin="round"/>
<path d="M853.6 703.7C855.1 704.4 857.4 707.5 862.6 708C867.8 708.5 878.2 705.8 885 707C891.8 708.2 899.5 711.8 903.3 715C907.1 718.2 906.1 723 908 726C909.9 729 913.6 731.8 914.7 733" fill="none" stroke="#000" stroke-width="3.2" stroke-linecap="round" stroke-linejoin="round"/>
<path d="M862.6 710.5C862.2 712.4 860 718 860.4 721.8C860.8 725.5 860.9 730 865 733C869.1 736 877.8 739.6 885 740C892.2 740.4 904.2 736.2 908 735.4" fill="none" stroke="#000" stroke-width="3.6" stroke-linecap="round" stroke-linejoin="round"/>
<ellipse cx="885" cy="727.3" rx="16" ry="8" fill="#fff" stroke="#000" stroke-width="3.4" transform="rotate(8 885 727.3)"/>
<path d="M862.6 737.6L865 764.8" fill="none" stroke="#000" stroke-width="3" stroke-linecap="round" stroke-linejoin="round"/>
</g>
<g id="part2">
<path d="M1081.3 154L1046.9 161.3L1075.9 169.5" fill="#fff" stroke="#000" stroke-width="4.2" stroke-linecap="round" stroke-linejoin="round"/>
<path d="M1046.9 161.3L1080.7 163" fill="none" stroke="#000" stroke-width="2.6" stroke-linecap="round" stroke-linejoin="round"/>
<path d="M1075.9 169.5L1035.1 177L1069.5 184.1" fill="#fff" stroke="#000" stroke-width="4.2" stroke-linecap="round" stroke-linejoin="round"/>
<path d="M1035.1 177L1074.8 178" fill="none" stroke="#000" stroke-width="2.6" stroke-linecap="round" stroke-linejoin="round"/>
<path d="M1069.5 184.9L1028.6 192L1063 199.5" fill="#fff" stroke="#000" stroke-width="4.2" stroke-linecap="round" stroke-linejoin="round"/>
<path d="M1028.6 192L1068.4 193.5" fill="none" stroke="#000" stroke-width="2.6" stroke-linecap="round" stroke-linejoin="round"/>
<path d="M1062.6 199.5L1022.2 207.1L1056.6 214.1" fill="#fff" stroke="#000" stroke-width="4.2" stroke-linecap="round" stroke-linejoin="round"/>
<path d="M1022.2 207.1L1061.7 208.1" fill="none" stroke="#000" stroke-width="2.6" stroke-linecap="round" stroke-linejoin="round"/>
<path d="M1056.6 214.6L1021.1 222.1L1051.2 228.5" fill="#fff" stroke="#000" stroke-width="4.2" stroke-linecap="round" stroke-linejoin="round"/>
<path d="M1021.1 222.1L1056 222.8" fill="none" stroke="#000" stroke-width="2.6" stroke-linecap="round" stroke-linejoin="round"/>
<path d="M1051.2 228.5L1016.8 233.9L1045.8 242.5" fill="#fff" stroke="#000" stroke-width="4.2" stroke-linecap="round" stroke-linejoin="round"/>
<path d="M1016.8 233.9L1050.7 236.8" fill="none" stroke="#000" stroke-width="2.6" stroke-linecap="round" stroke-linejoin="round"/>
<path d="M1045.8 242.5L1010.4 246.8L1035.1 259.7" fill="#fff" stroke="#000" stroke-width="4.2" stroke-linecap="round" stroke-linejoin="round"/>
<path d="M1010.4 246.8L1042.6 252.4" fill="none" stroke="#000" stroke-width="2.6" stroke-linecap="round" stroke-linejoin="round"/>
<path d="M1026.5 275.2L1087.7 142L1095.2 134.4L1125.3 130.4L1198.4 120.5L1205.9 125.6L1201.6 137.2L1185.5 167.7L1174.7 183.4L1159.7 208.1L1146.8 242.5L1124.2 283.8L1035.1 283.8Z" fill="#fff" stroke="#000" stroke-width="4" stroke-linecap="round" stroke-linejoin="round"/>
<path d="M1035.1 283.8L1124.2 283.8" fill="none" stroke="#000" stroke-width="5" stroke-linecap="round" stroke-linejoin="round"/>
<path d="M1026.5 275.2L1035.1 283.8" fill="none" stroke="#000" stroke-width="5" stroke-linecap="round" stroke-linejoin="round"/>
<path d="M1040.4 275.2L1101.7 141.1L1108.1 135.1" fill="none" stroke="#000" stroke-width="3.2" stroke-linecap="round" stroke-linejoin="round"/>
<path d="M1101.7 141.1L1189.8 126.9" fill="none" stroke="#000" stroke-width="3" stroke-linecap="round" stroke-linejoin="round"/>
<path d="M1190.2 126.5L1146.8 167.3" fill="none" stroke="#000" stroke-width="4" stroke-linecap="round" stroke-linejoin="round"/>
<path d="M1199.4 130.4L1158.6 174.2" fill="none" stroke="#000" stroke-width="5" stroke-linecap="round" stroke-linejoin="round"/>
<path d="M1186.5 148L1189.8 151.2L1176.9 178L1165.1 180.6L1170.4 169.5Z" fill="#000"/>
<path d="M1172.6 171.6L1184.4 167.3L1174.7 183.4L1164 179.1Z" fill="#fff"/>
<path d="M1105.1 158.7L1118.9 166.2L1125.3 169.5L1106 212.4L1090.9 253.2L1072.9 258L1061.1 258.8L1054.2 248.7L1076.3 211.3L1096.7 167.1Z" fill="#000"/>
<ellipse cx="1096.7" cy="188.4" rx="1.5" ry="1.5" fill="#fff" />
<ellipse cx="1092.4" cy="198.7" rx="1.5" ry="1.5" fill="#fff" />
<ellipse cx="1089" cy="223.2" rx="1.5" ry="1.5" fill="#fff" />
<ellipse cx="1082.1" cy="235.8" rx="1.5" ry="1.5" fill="#fff" />
<ellipse cx="1078" cy="252" rx="1.5" ry="1.5" fill="#fff" />
<path d="M1101.7 160.9C1099.4 157.8 1101 151.9 1102.8 149C1104.5 146.2 1108.3 144.5 1112.4 143.7C1116.5 142.8 1123.2 142.5 1127.5 144.1C1131.8 145.7 1135.7 150.5 1138.2 153.3C1140.7 156.2 1143.2 159.3 1142.5 161.3C1141.8 163.3 1138.2 164.2 1133.9 165.2C1129.6 166.2 1122.1 168 1116.7 167.3C1111.3 166.6 1104 163.9 1101.7 160.9Z" fill="#fff" stroke="#000" stroke-width="4" stroke-linecap="round" stroke-linejoin="round"/>
<ellipse cx="1117.1" cy="155.7" rx="6.4" ry="4.3" fill="#fff" stroke="#000" stroke-width="3.6" transform="rotate(-10 1117.1 155.7)"/>
<path d="M1053.6 272.1C1053.7 270 1055.2 266.6 1057.9 264.8C1060.5 263.1 1066.1 261.8 1069.5 261.8C1072.8 261.9 1076.8 263.6 1078 265.3C1079.3 266.9 1078.5 269.6 1076.8 271.7C1075 273.8 1071 276.7 1067.7 277.7C1064.4 278.7 1059.4 278.7 1057 277.7C1054.6 276.8 1053.4 274.3 1053.6 272.1Z" fill="#fff" stroke="#000" stroke-width="3.6" stroke-linecap="round" stroke-linejoin="round"/>
<ellipse cx="1065.2" cy="271.9" rx="3.2" ry="2.1" fill="#fff" stroke="#000" stroke-width="3.2" transform="rotate(-20 1065.2 271.9)"/>
<path d="M1095.2 238.2C1098.5 233.2 1102.4 226.9 1106 225.3C1109.6 223.7 1110.6 226.7 1116.7 228.5C1122.8 230.3 1137.8 233.7 1142.5 236.1C1147.2 238.4 1148.9 239.6 1144.6 242.5C1140.4 245.4 1124.6 249.7 1116.7 253.2C1108.8 256.8 1102.4 263.6 1097.4 264C1092.4 264.3 1087 259.7 1086.6 255.4C1086.3 251.1 1092 243.2 1095.2 238.2Z" fill="#000"/>
<path d="M1099.5 244.6C1102.4 243.6 1110.3 239.1 1116.7 238.2C1123.2 237.3 1134.6 239.1 1138.2 239.3" fill="none" stroke="#000" stroke-width="5" stroke-linecap="round" stroke-linejoin="round"/>
<path d="M1102.8 246.8C1106.3 244.5 1111.2 242.6 1116.7 241.4C1122.3 240.3 1134.6 239.2 1136.1 239.9C1137.5 240.6 1130.3 243.1 1125.3 245.7C1120.3 248.3 1111 253.8 1106 255.4C1101 257 1095.8 256.8 1095.2 255.4C1094.7 254 1099.2 249.1 1102.8 246.8Z" fill="#fff"/>
<path d="M1106 231.8C1106.2 230.6 1109.6 227.9 1111.3 227.9C1113.1 227.9 1116.9 230.6 1116.7 231.8C1116.5 232.9 1112.1 235 1110.3 235C1108.5 235 1105.8 232.9 1106 231.8Z" fill="#fff"/>
<path d="M1099.5 260.1L1116.7 283.8" fill="none" stroke="#000" stroke-width="6" stroke-linecap="round" stroke-linejoin="round"/>
<path d="M1108.1 255.4L1125.3 281.2" fill="none" stroke="#000" stroke-width="3.4" stroke-linecap="round" stroke-linejoin="round"/>
<path d="M1125.3 169.5C1126.4 167.3 1130.9 175.2 1131.8 178C1132.7 180.9 1128.9 184.5 1130.7 186.6C1132.5 188.8 1138.4 189.5 1142.5 190.9C1146.6 192.4 1151.8 192.7 1155.4 195.2C1159 197.7 1165.4 201.5 1164 206C1162.6 210.5 1148.6 217.4 1146.8 222.1C1145 226.7 1154.7 231.6 1153.2 233.9C1151.8 236.2 1143.6 237.5 1138.2 236.1C1132.8 234.6 1125.3 228.5 1121 225.3C1116.7 222.1 1113.1 219.9 1112.4 216.7C1111.7 213.5 1113.1 208.8 1116.7 206C1120.3 203.1 1132.5 202 1133.9 199.5C1135.3 197 1126.7 196 1125.3 190.9C1123.9 185.9 1124.2 171.6 1125.3 169.5Z" fill="#fff" stroke="#000" stroke-width="3.8" stroke-linecap="round" stroke-linejoin="round"/>
<path d="M1133.9 167.3C1135.3 164.8 1141.1 163.4 1142.5 165.2C1143.9 166.9 1143.9 175.5 1142.5 178C1141.1 180.6 1135.3 182 1133.9 180.2C1132.5 178.4 1132.5 169.8 1133.9 167.3Z" fill="#fff" stroke="#000" stroke-width="4" stroke-linecap="round" stroke-linejoin="round"/>
<path d="M1125.3 165.2C1127.1 163 1134.6 162.3 1136.1 163C1137.5 163.7 1134.8 166.9 1133.9 169.5C1133 172 1132.1 177 1130.7 178C1129.3 179.1 1126.2 178 1125.3 175.9C1124.4 173.8 1123.5 167.3 1125.3 165.2Z" fill="#000"/>
<path d="M1142.5 178C1145.4 178.4 1154.3 178 1159.7 180.2C1165.1 182.3 1171.9 187.4 1174.7 190.9C1177.6 194.5 1177.9 199.2 1176.9 201.7C1175.8 204.2 1169.7 205.3 1168.3 206" fill="none" stroke="#000" stroke-width="4.6" stroke-linecap="round" stroke-linejoin="round"/>
<path d="M1144.6 186.6C1146.8 187.1 1154.1 187.6 1157.5 189.2C1160.9 190.8 1163.6 193.9 1165.1 196.3C1166.5 198.7 1166 202.6 1166.1 203.8" fill="none" stroke="#000" stroke-width="4" stroke-linecap="round" stroke-linejoin="round"/>
<ellipse cx="1163.6" cy="221.4" rx="17.6" ry="15" fill="#fff" stroke="#000" stroke-width="4.4" transform="rotate(-15 1163.6 221.4)"/>
<path d="M1176.9 206C1177.8 207.4 1181.9 211.3 1182.2 214.6C1182.6 217.8 1179.6 223.5 1179 225.3" fill="none" stroke="#000" stroke-width="4" stroke-linecap="round" stroke-linejoin="round"/>
</g>
<g id="part6">
<path d="M1298.2 189.4C1301.3 187.6 1306.6 185.5 1311.5 184.4C1316.4 183.3 1322.5 183.1 1327.6 182.9C1332.8 182.8 1338 182.9 1342.4 183.5C1346.7 184.1 1351.6 185.1 1353.5 186.5C1355.5 187.8 1354.6 188.9 1354.1 191.8C1353.6 194.6 1350.3 200 1350.6 203.5C1350.8 207.1 1351.8 209.7 1355.6 212.9C1359.4 216.2 1368.7 218.9 1373.2 222.9C1377.8 227 1381.5 232.7 1382.9 237.4C1384.4 242 1382.9 246.3 1382.1 250.6C1381.2 254.9 1380.8 258.4 1377.6 262.9C1374.5 267.5 1369.3 272.7 1362.9 277.6C1356.6 282.5 1346.3 288.8 1339.4 292.4C1332.5 295.9 1327.2 297.2 1321.8 299.1C1316.4 301.1 1311 301.8 1307.1 304.1C1303.1 306.4 1301.2 310 1298.2 312.9C1295.3 315.9 1293.1 319.3 1289.4 321.8C1285.7 324.2 1280.6 326.2 1276.2 327.6C1271.8 329.1 1267.6 330.3 1262.9 330.6C1258.3 330.9 1252.4 330.4 1248.2 329.4C1244.1 328.4 1240.9 326.8 1237.9 324.7C1235 322.6 1231.3 319.8 1230.6 316.8C1229.9 313.7 1231.6 310.6 1233.5 306.5C1235.5 302.3 1239.4 296.9 1242.4 291.8C1245.3 286.6 1248.2 281 1251.2 275.6C1254.1 270.2 1256.8 265.5 1260 259.4C1263.2 253.3 1266.9 245.7 1270.3 238.8C1273.7 232 1277.6 224.1 1280.6 218.2C1283.5 212.4 1285.9 207.4 1287.9 203.5C1290 199.7 1291.2 197.6 1292.9 195.3C1294.7 192.9 1295.1 191.2 1298.2 189.4Z" fill="#000"/>
<ellipse cx="1321.2" cy="205.6" rx="5" ry="4.4" fill="#fff" />
<ellipse cx="1328.2" cy="254.1" rx="10.6" ry="8.8" fill="#fff"  transform="rotate(-30 1328.2 254.1)"/>
<ellipse cx="1264.4" cy="308.8" rx="5" ry="3.8" fill="#fff"  transform="rotate(-20 1264.4 308.8)"/>
<ellipse cx="1311.5" cy="215.9" rx="1.2" ry="1.2" fill="#fff" />
<ellipse cx="1315.9" cy="221.2" rx="1" ry="1" fill="#fff" />
<ellipse cx="1319.4" cy="218.2" rx="0.9" ry="0.9" fill="#fff" />
<ellipse cx="1298.2" cy="232.9" rx="0.9" ry="0.9" fill="#fff" />
<ellipse cx="1293.8" cy="237.4" rx="0.7" ry="0.7" fill="#fff" />
<ellipse cx="1348.2" cy="238.8" rx="0.9" ry="0.9" fill="#fff" />
<ellipse cx="1351.2" cy="242.4" rx="0.7" ry="0.7" fill="#fff" />
<ellipse cx="1361.5" cy="226.5" rx="0.7" ry="0.7" fill="#fff" />
<ellipse cx="1341.8" cy="260" rx="0.9" ry="0.9" fill="#fff" />
<ellipse cx="1298.8" cy="277.6" rx="0.9" ry="0.9" fill="#fff" />
<ellipse cx="1321.8" cy="285.9" rx="0.9" ry="0.9" fill="#fff" />
<ellipse cx="1317.4" cy="272.6" rx="0.7" ry="0.7" fill="#fff" />
<ellipse cx="1254.1" cy="312.4" rx="0.7" ry="0.7" fill="#fff" />
<ellipse cx="1365.9" cy="253.5" rx="0.7" ry="0.7" fill="#fff" />
<ellipse cx="1304.1" cy="209.4" rx="0.7" ry="0.7" fill="#fff" />
<ellipse cx="1343.8" cy="217.6" rx="0.7" ry="0.7" fill="#fff" />
<path d="M1353.5 189.4L1357.1 191.2" fill="none" stroke="#000" stroke-width="2.4" stroke-linecap="round" stroke-linejoin="round"/>
</g>
<g id="ring7">
<path d="M1677 259.8C1674.5 257.3 1667.3 248.6 1662 244.4C1656.6 240.2 1652.6 237 1644.8 234.7C1636.9 232.4 1624 230.6 1614.7 230.4C1605.4 230.2 1598.6 231.3 1588.9 233.6C1579.2 236 1567.4 239.7 1556.7 244.4C1545.9 249 1534.5 254.8 1524.5 261.6C1514.4 268.4 1504.4 277.3 1496.5 285.2C1488.6 293.1 1481.5 301.3 1477.2 308.8C1472.9 316.3 1471.5 323.9 1470.7 330.3C1470 336.8 1470.7 342.1 1472.9 347.5C1475 352.9 1478.6 358.2 1483.6 362.5C1488.6 366.8 1496.2 370.8 1503 373.3C1509.8 375.8 1517.3 377 1524.5 377.6C1531.6 378.1 1539.1 377.3 1545.9 376.5C1552.7 375.7 1562.1 373.5 1565.3 372.9" fill="#fff" stroke="#000" stroke-width="4" stroke-linecap="round" stroke-linejoin="round"/>
<path d="M1597.5 234.9C1591.8 237.2 1574.2 243.4 1563.1 248.7C1552 253.9 1540.9 259.4 1530.9 266.3C1520.9 273.2 1510.8 282 1503 289.9C1495.2 297.8 1487.8 306.1 1484.1 313.6C1480.3 321 1480.1 328.2 1480.4 334.6C1480.7 341 1482.7 346.4 1485.8 351.8C1488.8 357.2 1494.2 363 1498.7 366.8C1503.1 370.7 1510.3 373.6 1512.6 375" fill="none" stroke="#000" stroke-width="3.4" stroke-linecap="round" stroke-linejoin="round"/>
<path d="M1645.2 259C1644 257.4 1642 252.2 1638.3 249.7C1634.7 247.3 1629.7 244.7 1623.3 244.4C1616.8 244 1608.2 244.7 1599.6 247.6C1591.1 250.5 1580.7 256 1571.7 261.6C1562.8 267.1 1554.2 273.7 1545.9 280.9C1537.7 288.1 1528.4 297 1522.3 304.5C1516.2 312.1 1511.9 319.6 1509.4 326C1506.9 332.5 1506.2 338.2 1507.3 343.2C1508.3 348.2 1511.6 352.7 1515.9 356.1C1520.2 359.5 1526.6 362.9 1533 363.6C1539.5 364.3 1547.2 362.3 1554.5 360.4C1561.9 358.5 1573.3 353.6 1577.1 352.2" fill="#fff" stroke="#000" stroke-width="4.2" stroke-linecap="round" stroke-linejoin="round"/>
<path d="M1530.9 368.1C1534.5 367.6 1545.4 366.8 1552.4 365.1C1559.4 363.5 1569.4 359.4 1572.8 358.2" fill="none" stroke="#000" stroke-width="3" stroke-linecap="round" stroke-linejoin="round"/>
<path d="M1638.8 250.8L1641.8 264.8" fill="none" stroke="#000" stroke-width="4.4" stroke-linecap="round" stroke-linejoin="round"/>
<path d="M1649.1 256.2L1651.6 263.7" fill="none" stroke="#000" stroke-width="4" stroke-linecap="round" stroke-linejoin="round"/>
</g>
<g id="part3">
<path d="M1636 268.3L1663 265.4L1672.1 258.7L1717.3 256.7L1770.2 253.8L1784.6 258.7L1790.4 262.5L1790.9 288.5L1790.4 317.3L1787.5 335L1784.9 348.3L1779.8 363.6L1772.7 374.8L1759.5 380.4L1756.4 380.9L1754.4 390.1L1742.2 391.1L1732 391.1L1725.9 397.7L1719.8 397.2L1711.6 399.2L1705.5 403.3L1694.3 402.8L1689.2 404.8L1677 405.9L1670.9 410.4L1654.6 408.9L1645.5 411.5L1636 409.6L1620.8 413.5L1599.6 398.1L1592 399L1556.3 394.2L1575 366L1596 333L1617 298Z" fill="#fff" stroke="#000" stroke-width="0.1" stroke-linecap="round" stroke-linejoin="round"/>
<path d="M1666 259.4L1672.1 258.7L1717.3 256.7L1770.2 253.8" fill="none" stroke="#000" stroke-width="3.2" stroke-linecap="round" stroke-linejoin="round"/>
<path d="M1666.3 262.4L1748.1 259.3" fill="none" stroke="#000" stroke-width="2.2" stroke-linecap="round" stroke-linejoin="round"/>
<path d="M1770.2 253.8C1772.1 254.5 1781.9 257.4 1784.6 258.7C1787.3 260 1789.6 259.5 1790.4 263.5C1791.2 267.5 1790.9 281.3 1790.9 288.5C1790.9 295.7 1790.9 311.1 1790.4 317.3C1789.9 323.5 1788.2 330.9 1787.5 335C1786.8 339.1 1785.9 344.5 1784.9 348.3C1783.9 352.1 1781.4 360.1 1779.8 363.6C1778.2 367.1 1775.4 372.6 1772.7 374.8C1770 377 1761.3 379.7 1759.5 380.4" fill="none" stroke="#000" stroke-width="3.8" stroke-linecap="round" stroke-linejoin="round"/>
<path d="M1786.5 264C1786.6 267.5 1787.3 278.3 1787.3 285C1787.3 291.7 1786.6 300.8 1786.5 304" fill="none" stroke="#000" stroke-width="8" stroke-linecap="round" stroke-linejoin="round"/>
<path d="M1664.4 265.9C1665.6 266.3 1672.7 267.9 1675 269.2C1677.3 270.5 1682.7 274.6 1683.7 276.9C1684.7 279.2 1684.3 285.8 1683.7 288.5C1683.1 291.2 1680.2 297.2 1678.8 300C1677.4 302.8 1673.6 308.4 1672.1 312.5C1670.6 316.6 1667.9 330.6 1666.3 335C1664.7 339.4 1661.1 345.3 1658.7 350.4C1656.3 355.5 1648.2 372.2 1645.5 378.9C1642.8 385.5 1636.5 404.1 1635.3 407.4" fill="none" stroke="#000" stroke-width="4.6" stroke-linecap="round" stroke-linejoin="round"/>
<path d="M1687.5 264.4C1688.4 265.3 1693.5 270.6 1695.2 272.1C1696.9 273.6 1701.8 275 1701.9 276.9C1702 278.8 1697 286.2 1696.2 288.5C1695.4 290.8 1696.1 293.7 1695.2 296.2C1694.3 298.7 1690.4 305.1 1688.5 309.6C1686.6 314.1 1680.6 329.6 1678.8 335C1677 340.4 1674.8 349.9 1672.9 355.5C1671 361.1 1665.1 376.6 1662.8 382.9C1660.5 389.2 1654.7 406.3 1653.6 409.4" fill="none" stroke="#000" stroke-width="5.4" stroke-linecap="round" stroke-linejoin="round"/>
<path d="M1712.5 264.4C1713.7 265.8 1722.5 273.2 1723.1 276C1723.7 278.8 1718.9 285.3 1717.3 288.5C1715.7 291.7 1711.4 300 1709.6 303.8C1707.8 307.6 1703.4 317.6 1701.9 321.2C1700.4 324.8 1698.3 331 1697.1 335C1695.9 339 1693.3 349.9 1691.3 355.5C1689.3 361.1 1682.2 377.1 1680.1 382.9C1678 388.7 1673.7 402.7 1672.9 405.3" fill="none" stroke="#000" stroke-width="5.4" stroke-linecap="round" stroke-linejoin="round"/>
<path d="M1727.9 263.5C1728.9 264.4 1735.3 269.4 1736.5 271.2C1737.7 273 1738.9 276.6 1738.5 278.8C1738.1 281 1733.8 287.5 1732.7 290.4C1731.6 293.3 1730.1 300 1728.8 303.8C1727.5 307.6 1722.5 319.5 1721.2 323.1C1719.9 326.7 1718.5 331.8 1717.3 335C1716.1 338.2 1712.8 345.6 1710.6 350.4C1708.4 355.2 1700.9 369.6 1698.4 375.8C1695.9 382 1690.3 400.1 1689.2 403.3" fill="none" stroke="#000" stroke-width="5.4" stroke-linecap="round" stroke-linejoin="round"/>
<path d="M1745.2 261.5C1746.4 263.1 1755.2 271.6 1755.8 275C1756.4 278.4 1751.4 287 1750 290.4C1748.6 293.8 1745.8 300.2 1744.2 303.8C1742.6 307.4 1737.8 317.6 1736.5 321.2C1735.2 324.8 1733.8 331.6 1732.7 335C1731.6 338.4 1728.7 345.6 1726.9 350.4C1725.2 355.2 1719.5 370.6 1717.7 375.8C1715.9 381 1712.3 392.9 1711.6 395.2" fill="none" stroke="#000" stroke-width="4.8" stroke-linecap="round" stroke-linejoin="round"/>
<path d="M1759.6 258.7C1761 259.9 1770 265.7 1771.2 269.2C1772.4 272.7 1770.5 284.5 1770.2 288.5C1769.9 292.5 1769.6 300 1768.3 303.8C1767 307.6 1760.6 317.6 1758.7 321.2C1756.8 324.8 1753.5 331.6 1751.9 335C1750.3 338.4 1747 346 1745.2 350.4C1743.4 354.8 1737.9 368.3 1736.1 372.8C1734.3 377.3 1730.7 387.1 1730 389" fill="none" stroke="#000" stroke-width="5.2" stroke-linecap="round" stroke-linejoin="round"/>
<path d="M1774 256.7C1775 257.8 1781.8 263.7 1782.7 266.3C1783.6 268.9 1782.2 275.1 1781.7 278.8C1781.2 282.5 1779.7 293.6 1778.8 298.1C1777.9 302.6 1775.1 313 1774 317.3C1772.9 321.6 1770.3 331.4 1769.2 335C1768.1 338.6 1766.1 344.4 1764.6 348.3C1763.1 352.2 1757.8 364.2 1756.4 368.7C1755 373.2 1752.9 384.9 1752.4 387" fill="none" stroke="#000" stroke-width="4.4" stroke-linecap="round" stroke-linejoin="round"/>
<path d="M1636 409.6L1645.5 411.5L1654.6 408.9L1670.9 410.4L1677 405.9L1689.2 404.8L1694.3 402.8L1705.5 403.3L1711.6 399.2L1719.8 397.2L1725.9 397.7L1732 391.1L1742.2 391.1L1754.4 390.1L1756.4 380.9" fill="none" stroke="#000" stroke-width="3.8" stroke-linecap="round" stroke-linejoin="round"/>
</g>
<g id="part3face">
<path d="M1636.2 268.3L1663.1 265.4" fill="none" stroke="#000" stroke-width="3.4" stroke-linecap="round" stroke-linejoin="round"/>
<path d="M1636.2 268.3C1634.9 270.3 1619.6 293.8 1616.9 298.1C1614.2 302.4 1598.6 328.2 1595.8 332.7C1592.9 337.2 1577.2 361.3 1574.6 365.4C1572 369.5 1557.6 392.3 1556.3 394.2" fill="none" stroke="#000" stroke-width="4.4" stroke-linecap="round" stroke-linejoin="round"/>
<path d="M1556.3 394.2L1591.9 399L1599.6 398.1L1620.8 413.5L1636.2 409.6" fill="none" stroke="#000" stroke-width="3.8" stroke-linecap="round" stroke-linejoin="round"/>
<path d="M1663.1 269.2C1660.5 271.5 1653.8 278.4 1647.7 282.7C1641.6 287 1633.3 289.4 1626.5 295.2C1619.8 301 1611.7 309.8 1607.3 317.3C1602.9 324.8 1601.6 332.4 1600 340.4C1598.4 348.4 1597.1 359.3 1597.7 365.4C1598.3 371.5 1599.6 375.6 1603.5 376.9C1607.3 378.2 1617.9 373.7 1620.8 373.1" fill="none" stroke="#000" stroke-width="4.2" stroke-linecap="round" stroke-linejoin="round"/>
<path d="M1606.3 322.1C1610.7 318.5 1624.1 306.3 1632.3 300.4C1640.5 294.5 1649.9 289 1655.4 286.5C1660.8 284.1 1662.9 284.3 1665 285.6C1667.1 286.9 1668.5 290.9 1667.9 294.2C1667.2 297.6 1665.2 301.9 1661.2 305.8C1657.1 309.6 1649 312.8 1643.8 317.3C1638.7 321.8 1634.2 327.2 1630.4 332.7C1626.5 338.1 1623 344.6 1620.8 350C1618.5 355.4 1616.6 361.1 1616.9 365.4C1617.2 369.7 1621.7 374.2 1622.7 376" fill="none" stroke="#000" stroke-width="4.4" stroke-linecap="round" stroke-linejoin="round"/>
<path d="M1643.8 326.9C1646.2 326.8 1649.3 330.4 1648.7 333.7C1648 336.9 1643 341.2 1640 346.2C1637 351.1 1632.9 359.9 1630.4 363.5C1627.8 367 1626.2 367.3 1624.6 367.3C1623 367.3 1620.8 366.3 1620.8 363.5C1620.8 360.6 1622.4 354.8 1624.6 350C1626.9 345.2 1631 338.5 1634.2 334.6C1637.4 330.8 1641.4 327.1 1643.8 326.9Z" fill="none" stroke="#000" stroke-width="4.2" stroke-linecap="round" stroke-linejoin="round"/>
<path d="M1643.8 327.3L1648.1 334.2" fill="none" stroke="#000" stroke-width="5.4" stroke-linecap="round" stroke-linejoin="round"/>
<ellipse cx="1621.7" cy="374" rx="3.1" ry="2.7" fill="#000" />
<path d="M1603.5 376.9C1602.2 379.8 1597.7 390.5 1595.8 394.2C1593.8 397.9 1592.6 398.2 1591.9 399" fill="none" stroke="#000" stroke-width="3.4" stroke-linecap="round" stroke-linejoin="round"/>
</g>
<g id="ring12b">
<ellipse cx="1421.1" cy="669.5" rx="73.1" ry="16.8" fill="#fff" stroke="#000" stroke-width="4"/>
<ellipse cx="1421.1" cy="668.3" rx="50.1" ry="11.5" fill="none" stroke="#000" stroke-width="4"/>
</g>
<g id="cap4b">
<path d="M1375.6 773.6C1376.1 774.7 1376.1 778.6 1378.9 780.4C1381.6 782.2 1385.4 783.5 1392 784.4C1398.6 785.3 1409.5 785.7 1418.3 785.7C1427.1 785.7 1436.7 785.1 1444.6 784.4C1452.5 783.6 1461.2 782.9 1465.6 781.1C1470 779.3 1470 774.8 1470.9 773.6" fill="#fff" stroke="#000" stroke-width="3.4" stroke-linecap="round" stroke-linejoin="round"/>
<path d="M1315.8 739.7C1313.3 741.7 1312.1 744.9 1311.6 747.6C1311 750.2 1311.3 753.1 1312.5 755.5C1313.6 757.9 1313.9 759.8 1318.4 762C1322.9 764.2 1329.4 766.7 1339.4 768.6C1349.5 770.5 1365.7 772.1 1378.9 773.2C1392 774.3 1405.1 775.1 1418.3 775.2C1431.4 775.3 1444.6 775 1457.7 773.9C1470.9 772.8 1486.2 770.8 1497.2 768.6C1508.1 766.4 1517.7 763.3 1523.4 760.7C1529.2 758.1 1530.5 755.4 1531.6 752.8C1532.7 750.3 1531.8 748 1530 745.6C1528.2 743.2 1525 740.5 1520.8 738.4C1516.6 736.3 1522.1 734.9 1505 733.1C1488 731.4 1445.2 728.3 1418.3 727.9C1391.3 727.5 1358.7 729.4 1343.4 730.8C1328 732.1 1330.9 734.3 1326.3 735.7C1321.7 737.2 1318.2 737.7 1315.8 739.7Z" fill="#fff" stroke="#000" stroke-width="4" stroke-linecap="round" stroke-linejoin="round"/>
<path d="M1314.5 747.6C1318.6 748.7 1328.7 752.2 1339.4 754.1C1350.2 756.1 1365.7 758.1 1378.9 759.4C1392 760.7 1405.1 761.7 1418.3 762C1431.4 762.4 1444.6 762.3 1457.7 761.4C1470.9 760.5 1485.4 759.1 1497.2 756.8C1508.9 754.5 1522.9 749.1 1528 747.6" fill="none" stroke="#000" stroke-width="3" stroke-linecap="round" stroke-linejoin="round"/>
<path d="M1317.1 746.5C1319.7 746.1 1328.1 744 1332.9 743.9C1337.6 743.8 1343.3 745.6 1345.3 746" fill="none" stroke="#000" stroke-width="3" stroke-linecap="round" stroke-linejoin="round"/>
<path d="M1503.1 750.2C1505.1 749.9 1512 749.3 1515.6 748.6C1519.1 747.9 1522.7 746.4 1524.1 746" fill="none" stroke="#000" stroke-width="3" stroke-linecap="round" stroke-linejoin="round"/>
<path d="M1345.3 726.5C1339.8 728.5 1339.8 745.5 1345.3 750.2C1350.9 754.9 1366.7 753.7 1378.9 754.8C1391 755.9 1405.1 756.6 1418.3 756.8C1431.4 757 1443.6 757.1 1457.7 756.1C1471.9 755.1 1495.5 755.9 1503.1 750.9C1510.6 745.8 1510.6 728 1503.1 725.9C1495.5 723.8 1478.4 736.3 1457.7 738.4C1437 740.5 1397.6 740.3 1378.9 738.4C1360.1 736.4 1350.9 724.6 1345.3 726.5Z" fill="#fff" stroke="#000" stroke-width="0.1" stroke-linecap="round" stroke-linejoin="round"/>
<path d="M1348.6 747.8C1353.7 748.7 1367.3 751.8 1378.9 753.1C1390.5 754.4 1407.3 755.2 1418.3 755.7C1429.2 756.2 1433.6 756.4 1444.6 756C1455.5 755.5 1474.4 754.5 1484 753.1C1493.6 751.7 1499.3 748.7 1502.4 747.8" fill="none" stroke="#000" stroke-width="5.4" stroke-linecap="round" stroke-linejoin="round"/>
<path d="M1349.9 738.6C1354.8 739.8 1367.5 744 1378.9 745.7C1390.3 747.4 1405.1 748.6 1418.3 748.9C1431.4 749.2 1445.7 748.6 1457.7 747.6C1469.8 746.5 1483.4 744.1 1490.6 742.6C1497.8 741.1 1499.3 739.3 1501.1 738.6" fill="none" stroke="#000" stroke-width="2.4" stroke-linecap="round" stroke-linejoin="round"/>
<ellipse cx="1439.3" cy="755.7" rx="2.9" ry="0.7" fill="#fff"  transform="rotate(-3 1439.3 755.7)"/>
<ellipse cx="1448.5" cy="755.4" rx="2.9" ry="0.7" fill="#fff"  transform="rotate(-3 1448.5 755.4)"/>
<ellipse cx="1459" cy="754.9" rx="2.9" ry="0.7" fill="#fff"  transform="rotate(-3 1459 754.9)"/>
<ellipse cx="1469.6" cy="754.5" rx="2.9" ry="0.7" fill="#fff"  transform="rotate(-3 1469.6 754.5)"/>
<path d="M1345.3 727.2L1345.3 750.2" fill="none" stroke="#000" stroke-width="5.2" stroke-linecap="round" stroke-linejoin="round"/>
<path d="M1503.1 725.2L1503.1 751.5" fill="none" stroke="#000" stroke-width="4.8" stroke-linecap="round" stroke-linejoin="round"/>
<ellipse cx="1424.2" cy="727.3" rx="80.8" ry="16.8" fill="#fff" stroke="#000" stroke-width="3.6"/>
<ellipse cx="1425.5" cy="727.9" rx="63.7" ry="12.5" fill="#fff" stroke="#000" stroke-width="3.4"/>
<path d="M1361.8 724.6C1362.4 725.4 1363.7 728.1 1365.7 729.4C1367.7 730.8 1368.1 731.4 1373.6 732.9C1379.1 734.3 1388.9 736.8 1398.6 738.1C1408.2 739.4 1420.5 740.7 1431.4 740.7C1442.4 740.8 1458.8 739 1464.3 738.6" fill="none" stroke="#000" stroke-width="5.2" stroke-linecap="round" stroke-linejoin="round"/>
</g>
<g id="specks">
<ellipse cx="951.5" cy="345.4" rx="1.1" ry="1.1" fill="#777" />
<ellipse cx="1512" cy="730.4" rx="1" ry="1" fill="#555" />
</g>
</g>
<g id="leaders">
<path d="M924.4 62.4L924.4 120" stroke="#000" stroke-width="3" fill="none"/>
<path d="M1163 64.1L1163 122" stroke="#000" stroke-width="3" fill="none"/>
<path d="M1342.8 117L1342.8 187.4" stroke="#000" stroke-width="3" fill="none"/>
<path d="M1615.3 195.3L1615.3 230.5" stroke="#000" stroke-width="3" fill="none"/>
<path d="M1769.8 191.5L1769.8 252" stroke="#000" stroke-width="3" fill="none"/>
<path d="M430.6 147.5L430.6 196.5" stroke="#000" stroke-width="3" fill="none"/>
<path d="M862.2 223L862.2 273.2" stroke="#000" stroke-width="3" fill="none"/>
<path d="M154.6 317.5L154.6 367.5" stroke="#000" stroke-width="3" fill="none"/>
<path d="M696.8 314.9L696.8 370.8" stroke="#000" stroke-width="3" fill="none"/>
<path d="M915.6 384.6L1051 384.6" stroke="#000" stroke-width="2.2" fill="none"/>
<path d="M479.6 385L479.6 436" stroke="#000" stroke-width="3" fill="none"/>
<path d="M990 449.8L990 509.8" stroke="#000" stroke-width="3" fill="none"/>
<path d="M692.8 486.4L692.8 546.3" stroke="#000" stroke-width="3" fill="none"/>
<path d="M319.9 606L319.9 657.6" stroke="#000" stroke-width="3" fill="none"/>
<path d="M438.6 580.7L438.6 631.6" stroke="#000" stroke-width="3" fill="none"/>
<path d="M452.3 693.3L452.3 740" stroke="#000" stroke-width="3" fill="none"/>
<path d="M529.2 661.9L529.2 706.5" stroke="#000" stroke-width="3" fill="none"/>
<path d="M366.1 727L366.1 775.7" stroke="#000" stroke-width="3" fill="none"/>
<path d="M602.7 632.7L602.7 692.3" stroke="#000" stroke-width="3" fill="none"/>
<path d="M668.8 747.5L668.8 778" stroke="#000" stroke-width="3" fill="none"/>
<path d="M551.7 776.5L551.7 817" stroke="#000" stroke-width="3" fill="none"/>
<path d="M1448.7 652.9L1600.5 652.9" stroke="#000" stroke-width="2.2" fill="none"/>
<path d="M1528 740.7L1653.4 740.7" stroke="#000" stroke-width="2.2" fill="none"/>
</g>
<g class="t" id="labels">
<text transform="translate(897.5,57) scale(1.68,1)">14</text>
<rect x="899.6" y="53.5" width="9.1" height="4.7" fill="#fff"/>
<rect x="915.2" y="53.5" width="8.4" height="4.7" fill="#fff"/>
<text transform="translate(1150.2,59) scale(1.68,1)">2</text>
<text transform="translate(1329.2,114.9) scale(1.68,1)">6</text>
<text transform="translate(1607.3,189.1) scale(1.68,1)">7</text>
<text transform="translate(1758.2,189.1) scale(1.68,1)">3</text>
<text transform="translate(405,224.8) scale(1.68,1)">13</text>
<rect x="407.1" y="221.3" width="9.1" height="4.7" fill="#fff"/>
<rect x="422.7" y="221.3" width="8.4" height="4.7" fill="#fff"/>
<text transform="translate(839.6,299.3) scale(1.68,1)">11</text>
<rect x="841.7" y="295.8" width="9.1" height="4.7" fill="#fff"/>
<rect x="857.3" y="295.8" width="8.4" height="4.7" fill="#fff"/>
<rect x="868.3" y="295.8" width="9.1" height="4.7" fill="#fff"/>
<rect x="884" y="295.8" width="8.4" height="4.7" fill="#fff"/>
<text transform="translate(130.3,311.5) scale(1.68,1)">15</text>
<rect x="132.4" y="308" width="9.1" height="4.7" fill="#fff"/>
<rect x="148" y="308" width="8.4" height="4.7" fill="#fff"/>
<text transform="translate(673.9,394.7) scale(1.68,1)">14</text>
<rect x="676" y="391.2" width="9.1" height="4.7" fill="#fff"/>
<rect x="691.6" y="391.2" width="8.4" height="4.7" fill="#fff"/>
<text transform="translate(1056.7,392.4) scale(1.68,1)">12</text>
<rect x="1058.8" y="388.9" width="9.1" height="4.7" fill="#fff"/>
<rect x="1074.4" y="388.9" width="8.4" height="4.7" fill="#fff"/>
<text transform="translate(462.8,463.8) scale(1.68,1)">4</text>
<text transform="translate(979.1,445.4) scale(1.68,1)">5</text>
<text transform="translate(680.2,481.5) scale(1.68,1)">1</text>
<rect x="682.3" y="478" width="9.1" height="4.7" fill="#fff"/>
<rect x="698" y="478" width="8.4" height="4.7" fill="#fff"/>
<text transform="translate(305.6,600) scale(1.68,1)">8</text>
<text transform="translate(427.2,576.6) scale(1.68,1)">9</text>
<text transform="translate(421.7,688.1) scale(1.68,1)">10</text>
<rect x="423.8" y="684.6" width="9.1" height="4.7" fill="#fff"/>
<rect x="439.5" y="684.6" width="8.4" height="4.7" fill="#fff"/>
<text transform="translate(516.1,659.4) scale(1.68,1)">8</text>
<text transform="translate(353.5,722.3) scale(1.68,1)">8</text>
<text transform="translate(590,629.6) scale(1.68,1)">9</text>
<text transform="translate(657.1,743) scale(1.68,1)">9</text>
<text transform="translate(538.2,773.3) scale(1.68,1)">8</text>
<text transform="translate(1609.4,664.3) scale(1.68,1)">12</text>
<rect x="1611.5" y="660.8" width="9.1" height="4.7" fill="#fff"/>
<rect x="1627.1" y="660.8" width="8.4" height="4.7" fill="#fff"/>
<text transform="translate(1662.3,752.8) scale(1.68,1)">4</text>
</g>
</g>
</svg>
</body></html>
